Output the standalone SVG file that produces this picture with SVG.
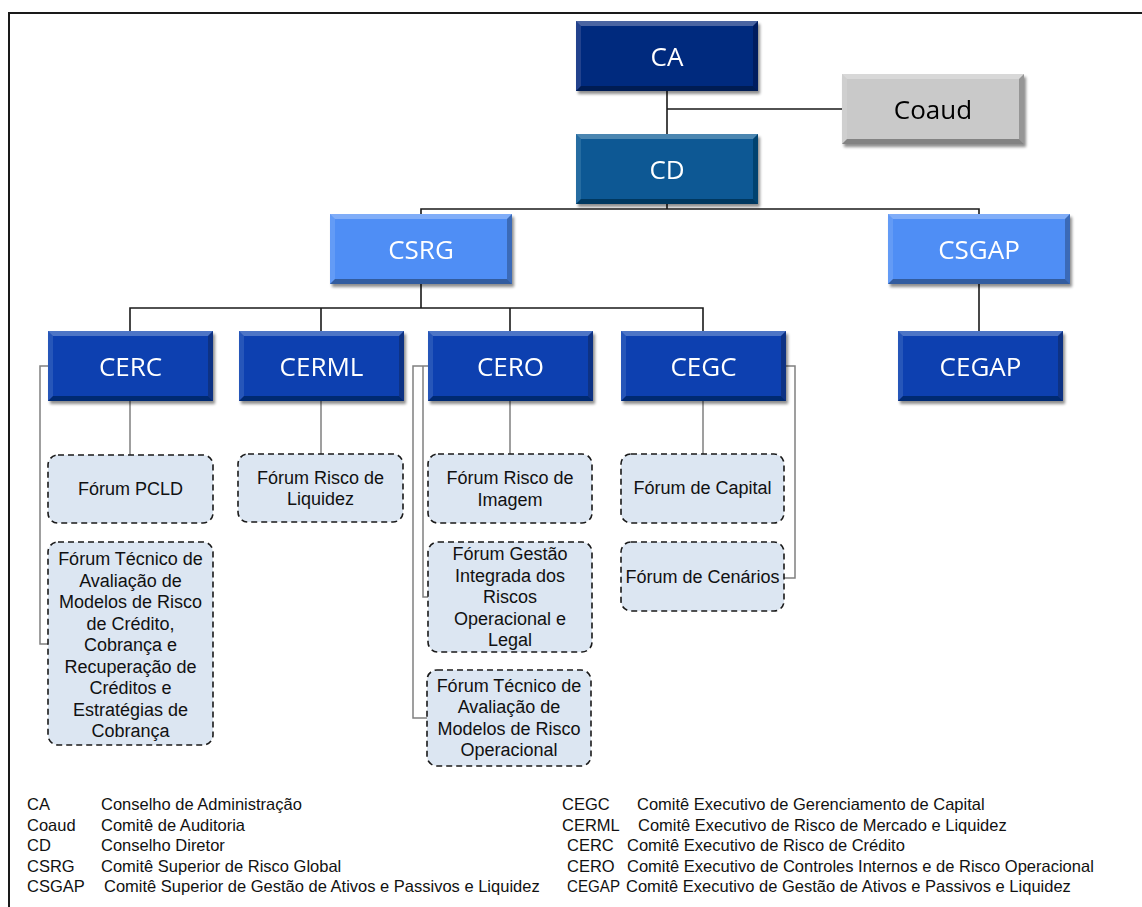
<svg xmlns="http://www.w3.org/2000/svg" width="1142" height="907" viewBox="0 0 1142 907">
<style>
.nl{font-family:"Open Sans","Liberation Sans",sans-serif;font-size:26px;fill:#fff;text-anchor:middle}
.nd{fill:#000}
.ft{font-family:"Liberation Sans",Arial,sans-serif;font-size:18px;fill:#111;text-anchor:middle}
.lg{font-family:"Liberation Sans",Arial,sans-serif;font-size:16.5px;fill:#111}
.fr{fill:#dce6f2;stroke:#1a1a1a;stroke-width:1.6;stroke-dasharray:6 4}
.c1{stroke:#1a1a1a;stroke-width:1.6;fill:none}
.c2{stroke:#808080;stroke-width:1.5;fill:none}
</style>
<defs>
<filter id="sh" x="-10%" y="-10%" width="130%" height="140%">
<feGaussianBlur in="SourceAlpha" stdDeviation="1.8"/>
<feOffset dx="2" dy="3" result="b"/>
<feComponentTransfer><feFuncA type="linear" slope="0.45"/></feComponentTransfer>
<feMerge><feMergeNode/><feMergeNode in="SourceGraphic"/></feMerge>
</filter>
<g id="bevA">
<path d="M0,0 L182,0 L177,5 L5,5 Z" fill="#fff" fill-opacity="0.28"/>
<path d="M0,0 L5,5 L5,65 L0,70 Z" fill="#fff" fill-opacity="0.12"/>
<path d="M0,70 L5,65 L177,65 L182,70 Z" fill="#000" fill-opacity="0.35"/>
<path d="M182,0 L182,70 L177,65 L177,5 Z" fill="#000" fill-opacity="0.25"/>
</g>
<g id="bevB">
<path d="M0,0 L165,0 L160,5 L5,5 Z" fill="#fff" fill-opacity="0.28"/>
<path d="M0,0 L5,5 L5,65 L0,70 Z" fill="#fff" fill-opacity="0.12"/>
<path d="M0,70 L5,65 L160,65 L165,70 Z" fill="#000" fill-opacity="0.35"/>
<path d="M165,0 L165,70 L160,65 L160,5 Z" fill="#000" fill-opacity="0.25"/>
</g>
</defs>
<rect x="0" y="0" width="1142" height="907" fill="#fff"/>
<rect x="9" y="13" width="1200" height="1000" fill="none" stroke="#1a1a1a" stroke-width="2"/>

<g id="connectors">
<path class="c1" d="M667,91 V134 M667,109 H842"/>
<path class="c1" d="M667,204 V209 M421,214 V209 H979 V214"/>
<path class="c1" d="M979,284 V331"/>
<path class="c1" d="M421,284 V308 M130,331 V308 H703 V331 M321,308 V331 M510,308 V331"/>
<path class="c2" d="M130,401 V455 M321,401 V454 M510,401 V454 M703,401 V454"/>
<path class="c2" d="M48,366 H40 V644 H48"/>
<path class="c2" d="M428,366 H413 V718 H427 M428,366 H423 V597 H428"/>
<path class="c2" d="M786,366 H795 V578 H784"/>
</g>

<g id="CA" filter="url(#sh)"><g transform="translate(576,21)"><rect width="182" height="70" fill="#062a7e"/><use href="#bevA"/></g><text class="nl" x="667" y="66">CA</text></g>
<g id="Coaud" filter="url(#sh)"><g transform="translate(842,74)"><rect width="182" height="70" fill="#c9c9c9"/><use href="#bevA"/></g><text class="nl nd" x="933" y="119">Coaud</text></g>
<g id="CD" filter="url(#sh)"><g transform="translate(576,134)"><rect width="182" height="70" fill="#075894"/><use href="#bevA"/></g><text class="nl" x="667" y="179">CD</text></g>
<g id="CSRG" filter="url(#sh)"><g transform="translate(330,214)"><rect width="182" height="70" fill="#4f8ef5"/><use href="#bevA"/></g><text class="nl" x="421" y="259">CSRG</text></g>
<g id="CSGAP" filter="url(#sh)"><g transform="translate(888,214)"><rect width="182" height="70" fill="#4f8ef5"/><use href="#bevA"/></g><text class="nl" x="979" y="259">CSGAP</text></g>
<g id="CERC" filter="url(#sh)"><g transform="translate(48,331)"><rect width="165" height="70" fill="#0a40b0"/><use href="#bevB"/></g><text class="nl" x="130.5" y="376">CERC</text></g>
<g id="CERML" filter="url(#sh)"><g transform="translate(239,331)"><rect width="165" height="70" fill="#0a40b0"/><use href="#bevB"/></g><text class="nl" x="321.5" y="376">CERML</text></g>
<g id="CERO" filter="url(#sh)"><g transform="translate(428,331)"><rect width="165" height="70" fill="#0a40b0"/><use href="#bevB"/></g><text class="nl" x="510.5" y="376">CERO</text></g>
<g id="CEGC" filter="url(#sh)"><g transform="translate(621,331)"><rect width="165" height="70" fill="#0a40b0"/><use href="#bevB"/></g><text class="nl" x="703.5" y="376">CEGC</text></g>
<g id="CEGAP" filter="url(#sh)"><g transform="translate(898,331)"><rect width="165" height="70" fill="#0a40b0"/><use href="#bevB"/></g><text class="nl" x="980.5" y="376">CEGAP</text></g>

<g id="F_PCLD"><rect class="fr" x="48" y="455" width="165" height="68" rx="10"/><text class="ft" x="130.5" y="495">Fórum PCLD</text></g>
<g id="F_TecCred"><rect class="fr" x="48" y="542" width="165" height="203" rx="10"/>
<text class="ft" x="130.5" y="565">Fórum Técnico de</text>
<text class="ft" x="130.5" y="586.5">Avaliação de</text>
<text class="ft" x="130.5" y="608">Modelos de Risco</text>
<text class="ft" x="130.5" y="629.5">de Crédito,</text>
<text class="ft" x="130.5" y="651">Cobrança e</text>
<text class="ft" x="130.5" y="672.5">Recuperação de</text>
<text class="ft" x="130.5" y="694">Créditos e</text>
<text class="ft" x="130.5" y="715.5">Estratégias de</text>
<text class="ft" x="130.5" y="737">Cobrança</text></g>
<g id="F_Liq"><rect class="fr" x="238" y="454" width="165" height="68" rx="10"/><text class="ft" x="320.5" y="484">Fórum Risco de</text><text class="ft" x="320.5" y="505">Liquidez</text></g>
<g id="F_Img"><rect class="fr" x="428" y="454" width="164" height="69" rx="10"/><text class="ft" x="510" y="484">Fórum Risco de</text><text class="ft" x="510" y="506">Imagem</text></g>
<g id="F_Gest"><rect class="fr" x="428" y="542" width="164" height="110" rx="10"/>
<text class="ft" x="510" y="560">Fórum Gestão</text>
<text class="ft" x="510" y="581.5">Integrada dos</text>
<text class="ft" x="510" y="603">Riscos</text>
<text class="ft" x="510" y="624.5">Operacional e</text>
<text class="ft" x="510" y="646">Legal</text></g>
<g id="F_TecOp"><rect class="fr" x="427" y="670" width="164" height="96" rx="10"/>
<text class="ft" x="509" y="691.5">Fórum Técnico de</text>
<text class="ft" x="509" y="713">Avaliação de</text>
<text class="ft" x="509" y="734.5">Modelos de Risco</text>
<text class="ft" x="509" y="756">Operacional</text></g>
<g id="F_Cap"><rect class="fr" x="621" y="454" width="163" height="69" rx="10"/><text class="ft" x="702.5" y="494">Fórum de Capital</text></g>
<g id="F_Cen"><rect class="fr" x="621" y="542" width="163" height="69" rx="10"/><text class="ft" x="702.5" y="583">Fórum de Cenários</text></g>

<g id="legend">
<text class="lg" x="27" y="810">CA</text><text class="lg" x="101" y="810">Conselho de Administração</text>
<text class="lg" x="27" y="830.5">Coaud</text><text class="lg" x="101" y="830.5">Comitê de Auditoria</text>
<text class="lg" x="27" y="851">CD</text><text class="lg" x="101" y="851">Conselho Diretor</text>
<text class="lg" x="27" y="871.5">CSRG</text><text class="lg" x="101" y="871.5">Comitê Superior de Risco Global</text>
<text class="lg" x="27" y="892">CSGAP</text><text class="lg" x="104" y="892">Comitê Superior de Gestão de Ativos e Passivos e Liquidez</text>
<text class="lg" x="562" y="810">CEGC</text><text class="lg" x="637" y="810">Comitê Executivo de Gerenciamento de Capital</text>
<text class="lg" x="562" y="830.5">CERML</text><text class="lg" x="638" y="830.5">Comitê Executivo de Risco de Mercado e Liquidez</text>
<text class="lg" x="567" y="851">CERC</text><text class="lg" x="627" y="851">Comitê Executivo de Risco de Crédito</text>
<text class="lg" x="567" y="871.5">CERO</text><text class="lg" x="627" y="871.5">Comitê Executivo de Controles Internos e de Risco  Operacional</text>
<text class="lg" x="567" y="892" textLength="53" lengthAdjust="spacingAndGlyphs">CEGAP</text><text class="lg" x="626" y="892">Comitê Executivo de Gestão de Ativos e Passivos e Liquidez</text>
</g>
</svg>
